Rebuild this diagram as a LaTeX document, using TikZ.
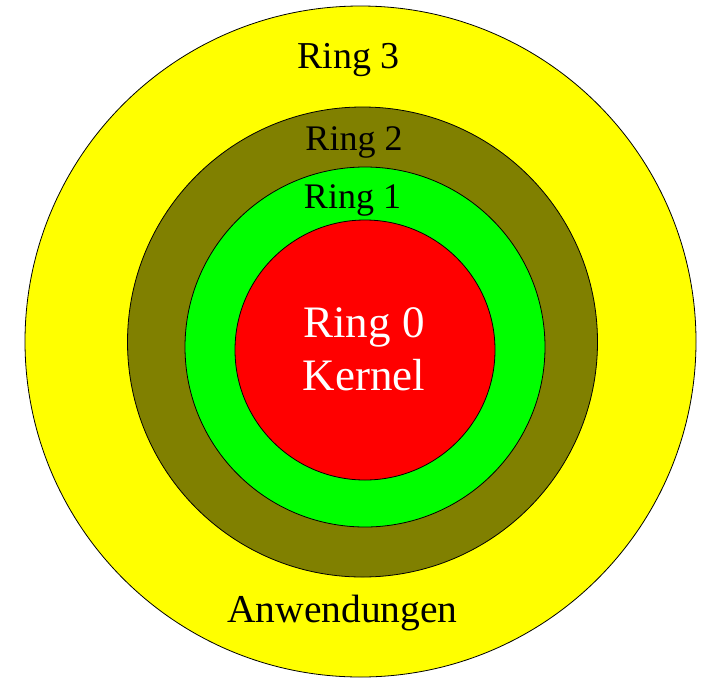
\documentclass[tikz,border=0pt]{standalone}
\usepackage{fontspec}
\setmainfont{Liberation Serif}
\definecolor{ryellow}{HTML}{FFFF00}
\definecolor{rolive}{HTML}{808000}
\definecolor{rgreen}{HTML}{00FF00}
\definecolor{rred}{HTML}{FF0000}
\tikzset{
  ringdisc/.style={draw=black, line width=0.8pt},
  ringlabel/.style={anchor=base, inner sep=0pt, font=\fontsize{36}{40}\selectfont},
}
\begin{document}
\begin{tikzpicture}[x=1pt,y=-1pt]
\useasboundingbox (0,0) rectangle (701,678);
\fill[white] (0,0) rectangle (701,678);
\draw[ringdisc, fill=ryellow] (360.5,341.5) circle[radius=335.5];
\draw[ringdisc, fill=rolive] (362.5,342) circle[radius=235];
\draw[ringdisc, fill=rgreen] (365,347) circle[radius=180];
\draw[ringdisc, fill=rred] (365,350) circle[radius=130];
\node[ringlabel, font=\fontsize{38}{42}\selectfont] (r3) at (348.5,68) {Ring 3};
\node[ringlabel] (r2) at (354,150) {Ring 2};
\node[ringlabel] (r1) at (352.5,208) {Ring 1};
\node[ringlabel, font=\fontsize{45}{53}\selectfont, text=white, align=center, anchor=north] (r0) at (364,307) {Ring 0\\Kernel};
\node[ringlabel, font=\fontsize{39.5}{44}\selectfont] (app) at (342.5,622) {Anwendungen};
\end{tikzpicture}
\end{document}
